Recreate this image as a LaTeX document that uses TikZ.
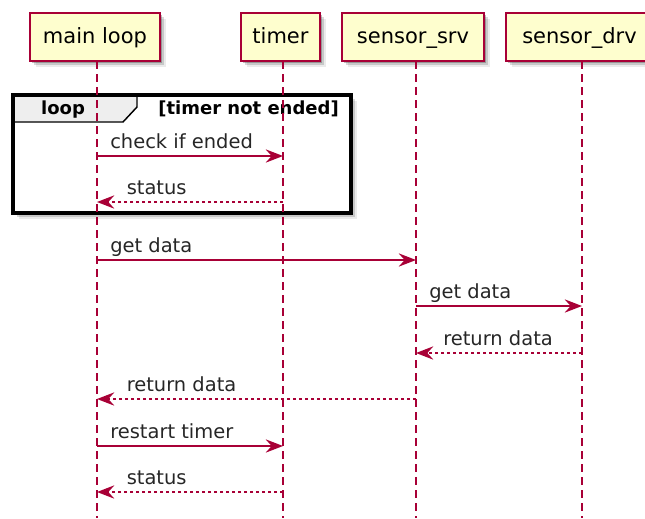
\documentclass[tikz,border=0pt]{standalone}
\usepackage{fontspec}
\setmainfont{DejaVu Sans}
\usetikzlibrary{arrows.meta,shadows}
\definecolor{pborder}{HTML}{A80036}
\definecolor{pfill}{HTML}{FEFECE}
\definecolor{tabfill}{HTML}{EEEEEE}
\begin{document}
\begin{tikzpicture}[x=0.75pt,y=-0.75pt,
  softshadow/.style={drop shadow={shadow xshift=1.5pt,shadow yshift=-1.5pt,opacity=0.25,fill=black},
                     drop shadow={shadow xshift=3pt,shadow yshift=-3pt,opacity=0.15,fill=black},
                     drop shadow={shadow xshift=4.5pt,shadow yshift=-4.5pt,opacity=0.08,fill=black}},
  participant/.style={draw=pborder,fill=pfill,line width=1.5pt,inner sep=0pt,
     minimum height=36pt,text height=12.5pt,text depth=2.5pt,
     font=\fontsize{15.75}{18}\selectfont,text=black,softshadow},
  lifeline/.style={draw=pborder,line width=1.1pt,dash pattern=on 6pt off 3.75pt},
  msg/.style={draw=pborder,line width=1.1pt,-{Stealth[length=13pt,width=10pt,inset=4.5pt]}},
  retmsg/.style={msg,dash pattern=on 2.25pt off 2.25pt},
  msglabel/.style={anchor=base west,inner sep=0pt,font=\fontsize{14.6}{17}\selectfont,text=black!85},
  grouplabel/.style={inner sep=0pt,font=\fontsize{13.5}{15}\selectfont\bfseries,text=black},
]
\useasboundingbox (0,0) rectangle (645,518);

% loop frame
\filldraw[fill=white,draw=black,line width=2.4pt,softshadow] (13,95) rectangle (351,213);
\filldraw[fill=tabfill,draw=black,line width=1.1pt] (13,95) -- (137,95) -- (137,107) -- (123,122) -- (13,122) -- cycle;
\draw[line width=2.4pt,black] (13,95) rectangle (351,213);
\node[grouplabel,anchor=base] (looplbl) at (63,114) {loop};
\node[grouplabel,anchor=base east] (cond) at (339,114) {[timer not ended]};

% participants
\node[participant,minimum width=97.5pt] (pmain) at (95,37) {main loop};
\node[participant,minimum width=59.25pt] (ptimer) at (280.5,37) {timer};
\node[participant,minimum width=106.5pt] (psrv) at (413,37) {sensor\_srv};
\node[participant,minimum width=110.25pt] (pdrv) at (579.5,37) {sensor\_drv};

% lifelines
\coordinate (ma) at (97,61);  \coordinate (mb) at (97,518);
\coordinate (ta) at (283,61); \coordinate (tb) at (283,518);
\coordinate (sa) at (416,61); \coordinate (sb) at (416,518);
\coordinate (da) at (582,61); \coordinate (db) at (582,518);
\draw[lifeline] (ma) -- (mb);
\draw[lifeline] (ta) -- (tb);
\draw[lifeline] (sa) -- (sb);
\draw[lifeline] (da) -- (db);

% messages
\coordinate (m1a) at (97,156);  \coordinate (m1b) at (283,156);
\draw[msg] (m1a) -- (m1b);
\node[msglabel] (l1) at (110,148) {check if ended};

\coordinate (m2a) at (283,202); \coordinate (m2b) at (97,202);
\draw[retmsg] (m2a) -- (m2b);
\node[msglabel] (l2) at (126.5,194) {status};

\coordinate (m3a) at (97,260);  \coordinate (m3b) at (416,260);
\draw[msg] (m3a) -- (m3b);
\node[msglabel] (l3) at (110,252) {get data};

\coordinate (m4a) at (416,306); \coordinate (m4b) at (582,306);
\draw[msg] (m4a) -- (m4b);
\node[msglabel] (l4) at (429,298) {get data};

\coordinate (m5a) at (582,353); \coordinate (m5b) at (416,353);
\draw[retmsg] (m5a) -- (m5b);
\node[msglabel] (l5) at (443,345) {return data};

\coordinate (m6a) at (416,399); \coordinate (m6b) at (97,399);
\draw[retmsg] (m6a) -- (m6b);
\node[msglabel] (l6) at (126.5,391) {return data};

\coordinate (m7a) at (97,446);  \coordinate (m7b) at (283,446);
\draw[msg] (m7a) -- (m7b);
\node[msglabel] (l7) at (110,438) {restart timer};

\coordinate (m8a) at (283,492); \coordinate (m8b) at (97,492);
\draw[retmsg] (m8a) -- (m8b);
\node[msglabel] (l8) at (126.5,484) {status};
\end{tikzpicture}
\end{document}
